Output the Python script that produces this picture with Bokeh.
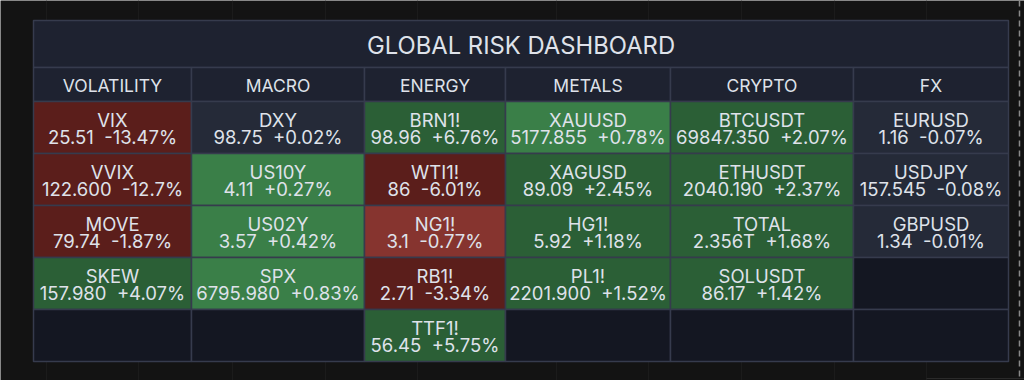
from bokeh.plotting import figure
from bokeh.models import Range1d, ColumnDataSource
from bokeh.core.properties import value
from bokeh.embed import file_html
from bokeh.resources import INLINE

# ---------------- data ----------------
title = "GLOBAL RISK DASHBOARD"
groups = ["VOLATILITY", "MACRO", "ENERGY", "METALS", "CRYPTO", "FX"]

symbols = [
    ["VIX", "VVIX", "MOVE", "SKEW"],
    ["DXY", "US10Y", "US02Y", "SPX"],
    ["BRN1!", "WTI1!", "NG1!", "RB1!", "TTF1!"],
    ["XAUUSD", "XAGUSD", "HG1!", "PL1!"],
    ["BTCUSDT", "ETHUSDT", "TOTAL", "SOLUSDT"],
    ["EURUSD", "USDJPY", "GBPUSD"],
]
prices = [
    ["25.51", "122.600", "79.74", "157.980"],
    ["98.75", "4.11", "3.57", "6795.980"],
    ["98.96", "86", "3.1", "2.71", "56.45"],
    ["5177.855", "89.09", "5.92", "2201.900"],
    ["69847.350", "2040.190", "2.356T", "86.17"],
    ["1.16", "157.545", "1.34"],
]
changes = [
    ["-13.47", "-12.7", "-1.87", "+4.07"],
    ["+0.02", "+0.27", "+0.42", "+0.83"],
    ["+6.76", "-6.01", "-0.77", "-3.34", "+5.75"],
    ["+0.78", "+2.45", "+1.18", "+1.52"],
    ["+2.07", "+2.37", "+1.68", "+1.42"],
    ["-0.07", "-0.08", "-0.01"],
]
# cell tone as shown in the dashboard
tones = [
    ["down", "down", "down", "up"],
    ["flat", "up2", "up2", "up2"],
    ["up", "down", "down2", "down", "up"],
    ["up2", "up", "up", "up"],
    ["up", "up", "up", "up"],
    ["flat", "flat", "flat"],
]
n_rows = 5

# ---------------- style / layout ----------------
W, H = 1024, 380
BG = "#131313"
BORDER = "#363b4d"
HEAD_BG = "#1e2230"
EMPTY_BG = "#141722"
TXT = "#dfe2ea"
TONE_COL = {
    "down": "#5b1e1b",
    "down2": "#86342f",
    "up": "#2b5f36",
    "up2": "#3a7f48",
    "flat": "#252a38",
}
FONT = "Inter"
col_w = [158, 173, 141, 165, 183, 155]
x0, y_title, y_head, y_body = 33, 20, 67, 101
row_h = 52
title_h = y_head - y_title
head_h = y_body - y_head

p = figure(width=W, height=H, x_range=Range1d(0, W), y_range=Range1d(H, 0),
           output_backend="svg", toolbar_location=None, min_border=0,
           background_fill_color=BG, border_fill_color=BG, outline_line_color=None)
p.axis.visible = False
p.grid.visible = False

# faint background chart grid
grid_x = [46, 138, 232, 325, 417, 556, 648, 741, 834, 926]
p.segment(x0=grid_x, y0=[0] * len(grid_x), x1=grid_x, y1=[H] * len(grid_x),
          line_color="#1b1b1b", line_width=1)
p.segment(x0=[1019], y0=[0], x1=[1019], y1=[H], line_color="#8a8a8a",
          line_width=1.5, line_dash="6 4")
p.segment(x0=[926], y0=[378], x1=[W], y1=[378], line_color="#2a2a2a", line_width=1)

edges = [x0]
for w in col_w:
    edges.append(edges[-1] + w)
total_right = edges[-1]

# title bar
p.quad(left=[x0], right=[total_right], top=[y_title], bottom=[y_head],
       fill_color=HEAD_BG, line_color=BORDER, line_width=1.5)
p.text(x=[(x0 + total_right) / 2], y=[y_title + title_h / 2 + 1.5], text=[title],
       text_font=value(FONT), text_font_size="23.8px", text_color=TXT,
       text_align="center", text_baseline="middle")

# headers
hs = ColumnDataSource(dict(l=edges[:-1], r=edges[1:],
                           cx=[(a + b) / 2 for a, b in zip(edges[:-1], edges[1:])],
                           t=groups))
p.quad(left="l", right="r", top=y_head, bottom=y_body, source=hs,
       fill_color=HEAD_BG, line_color=BORDER, line_width=1.5)
p.text(x="cx", y=y_head + head_h / 2 + 0.5, text="t", source=hs,
       text_font=value(FONT), text_font_size="17.5px", text_color=TXT,
       text_align="center", text_baseline="middle")

# body cells
L, R, T, B, C, CX, CY, S, V = [], [], [], [], [], [], [], [], []
for ci in range(len(groups)):
    for ri in range(n_rows):
        top = y_body + ri * row_h
        L.append(edges[ci]); R.append(edges[ci + 1])
        T.append(top); B.append(top + row_h)
        if ri < len(symbols[ci]):
            C.append(TONE_COL[tones[ci][ri]])
            CX.append((edges[ci] + edges[ci + 1]) / 2)
            CY.append(top + row_h / 2)
            S.append(symbols[ci][ri])
            V.append(f"{prices[ci][ri]}\u00a0\u00a0{changes[ci][ri]}%")
        else:
            C.append(EMPTY_BG)

p.quad(left=L, right=R, top=T, bottom=B, fill_color=C,
       line_color=BORDER, line_width=1.5)
cs = ColumnDataSource(dict(x=CX, y1=[y - 7.5 for y in CY], y2=[y + 9 for y in CY], s=S, v=V))
p.text(x="x", y="y1", text="s", source=cs, text_font=value(FONT),
       text_font_size="18.5px", text_color=TXT, text_align="center", text_baseline="middle")
p.text(x="x", y="y2", text="v", source=cs, text_font=value(FONT),
       text_font_size="18.5px", text_color=TXT, text_align="center", text_baseline="middle")

open("out.html", "w").write(file_html(p, INLINE))
